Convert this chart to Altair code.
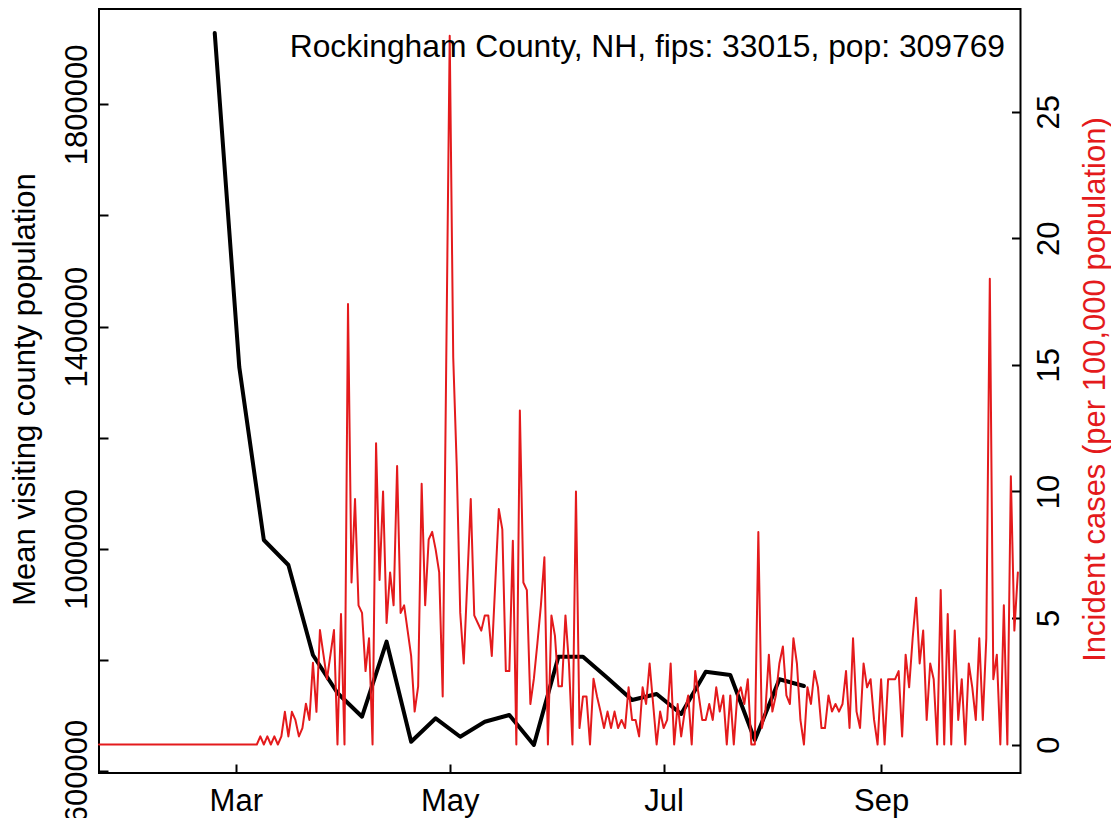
import altair as alt
import pandas as pd

title_text = "Rockingham County, NH, fips: 33015, pop: 309769"
left_title = "Mean visiting county population"
right_title = "Incident cases (per 100,000 population)"

# daily incident cases per 100,000, from 2020-01-22
case_start = "2020-01-22"
cases = [
    0, 0, 0, 0, 0, 0, 0, 0, 0, 0,
    0, 0, 0, 0, 0, 0, 0, 0, 0, 0,
    0, 0, 0, 0, 0, 0, 0, 0, 0, 0,
    0, 0, 0, 0, 0, 0, 0, 0, 0, 0,
    0, 0, 0, 0, 0,
    0, 0.32, 0, 0.32, 0, 0.32, 0, 0.32, 1.29, 0.32,
    1.29, 0.97, 0.32, 0.65, 1.61, 0.97, 3.23, 1.29, 4.52, 3.55,
    2.58, 3.55, 4.52, 0, 5.16, 0, 17.4, 6.4, 9.7, 5.5,
    5.2, 2.9, 4.2, 0, 11.9, 6.5, 10.0, 4.8, 6.8, 5.5,
    11.0, 5.2, 5.5, 4.5, 3.5, 1.3, 2.3, 10.3, 5.5, 8.1,
    8.4, 7.7, 6.8, 1.9, 15.0, 28.0, 15.3, 11.0, 5.2, 3.2,
    6.4, 9.7, 5.1, 4.8, 4.5, 5.1, 5.1, 3.5, 6.4, 9.3,
    8.5, 2.9, 2.9, 8.05, 0, 13.2, 6.4, 6.1, 1.6, 2.6,
    4.0, 5.5, 7.4, 0, 5.1, 4.3, 2.3, 2.3, 5.1, 3.2,
    0, 10.0, 0.65, 1.9, 1.9, 0, 2.6, 1.9, 1.3, 0.65,
    1.3, 0.65, 1.3, 0.65, 0.97, 0.65, 2.26, 0.97, 0.97, 0.32,
    2.26, 1.6, 3.2, 1.6, 0, 1.3, 0.65, 0.97, 3.2, 0,
    1.6, 0.32, 1.3, 1.94, 0, 2.9, 1.94, 0.97, 0.97, 1.6,
    0.97, 2.26, 1.3, 1.94, 0, 1.94, 0, 1.94, 2.26, 1.6,
    2.58, 0, 0, 8.4, 0.65, 1.3, 3.55, 1.3, 1.94, 3.2,
    3.87, 1.94, 1.6, 4.2, 3.2, 0.97, 0, 2.26, 1.6, 2.9,
    2.26, 0.65, 0.65, 1.94, 1.3, 1.6, 1.3, 1.6, 2.9, 0.65,
    4.2, 1.3, 0.65, 3.2, 2.26, 2.58, 0.97, 0, 2.58, 0,
    2.58, 2.58, 2.58, 2.9, 0.32, 3.55, 2.26, 4.2, 5.8, 3.2,
    4.5, 0.97, 3.2, 2.58, 0, 6.1, 0, 5.16, 0, 4.5,
    0.97, 2.58, 0, 3.2, 2.26, 0.97, 4.2, 0.97, 4.2, 18.4,
    2.58, 3.55, 0, 5.5, 0, 10.6, 4.5, 6.8,
]

# weekly mean visiting county population, from 2020-02-24
visit_start = "2020-02-24"
visitors = [
    1928500, 1327000, 1015800, 970800, 808800, 740400, 697700, 832800,
    652700, 694900, 661700, 688700, 700800, 646800, 805800, 805800,
    767400, 727800, 738600, 702600, 778800, 772800, 655800, 765100,
    753000,
]

month_ticks = [(3, 1), (5, 1), (7, 1), (9, 1)]
left_ticks = [600000, 800000, 1000000, 1200000, 1400000, 1600000, 1800000]
right_ticks = [0, 5, 10, 15, 20, 25]

case_dates = pd.date_range(case_start, periods=len(cases), freq="D").strftime("%Y-%m-%d")
visit_dates = pd.date_range(visit_start, periods=len(visitors), freq="7D").strftime("%Y-%m-%d")

cases_df = pd.DataFrame({"date": list(case_dates), "cases": cases})
visit_df = pd.DataFrame({"date": list(visit_dates), "visitors": visitors})
label_df = pd.DataFrame({"label": [title_text]})

W, H = 921.5, 764
FONT = "Liberation Sans"
RED = "#E41A1C"
FS = 31

x_scale = alt.Scale(
    type="utc",
    domain=[
        alt.DateTime(year=2020, month=1, date=22, utc=True),
        alt.DateTime(year=2020, month=10, date=10, hours=18, utc=True),
    ],
)
x_axis = alt.Axis(
    values=[alt.DateTime(year=2020, month=m, date=d, utc=True) for m, d in month_ticks],
    labelExpr="utcFormat(datum.value, '%b')",
    offset=-9, tickSize=9, tickWidth=2, tickColor="black",
    domain=False, grid=False,
    labelFontSize=FS, labelFont=FONT, labelColor="black",
    labelPadding=37, labelBaseline="alphabetic", labelAlign="center",
    labelFlush=False, labelOverlap=False, title=None,
)

y_left_axis = alt.Axis(
    values=left_ticks,
    labelExpr="(datum.value - 600000) % 400000 == 0 ? format(datum.value, 'd') : ''",
    offset=-9, tickSize=9, tickWidth=2, tickColor="black",
    domain=False, grid=False,
    labelAngle=270, labelAlign="center", labelBaseline="alphabetic",
    labelPadding=13, labelFontSize=FS, labelFont=FONT, labelColor="black",
    labelOverlap=False, labelFlush=False,
    title=left_title, titleAngle=270, titleX=-74, titleY=380,
    titleAlign="center", titleBaseline="alphabetic",
    titleFontSize=FS, titleFont=FONT, titleFontWeight="normal", titleColor="black",
)

y_right_axis = alt.Axis(
    orient="right",
    values=right_ticks,
    format="d",
    offset=-9, tickSize=9, tickWidth=2, tickColor="black",
    domain=False, grid=False,
    labelAngle=270, labelAlign="center", labelBaseline="alphabetic",
    labelPadding=37.5, labelFontSize=FS, labelFont=FONT, labelColor="black",
    labelOverlap=False, labelFlush=False,
    title=right_title, titleAngle=270, titleX=93, titleY=380,
    titleAlign="center", titleBaseline="alphabetic",
    titleFontSize=FS, titleFont=FONT, titleFontWeight="normal", titleColor=RED,
)

black = alt.Chart(visit_df).mark_line(
    color="black", strokeWidth=4, strokeJoin="round", strokeCap="round"
).encode(
    x=alt.X("date:T", scale=x_scale, axis=x_axis),
    y=alt.Y("visitors:Q", scale=alt.Scale(domain=[596400, 1971700], nice=False, zero=False),
            axis=y_left_axis),
)

red = alt.Chart(cases_df).mark_line(
    color=RED, strokeWidth=2, strokeJoin="round", strokeCap="round"
).encode(
    x=alt.X("date:T", scale=x_scale, axis=x_axis),
    y=alt.Y("cases:Q", scale=alt.Scale(domain=[-1.126, 29.06], nice=False, zero=False),
            axis=y_right_axis),
)

label = alt.Chart(label_df).mark_text(
    align="right", baseline="alphabetic", fontSize=31.8, font=FONT, color="black"
).encode(
    x=alt.value(906), y=alt.value(48), text="label:N"
)

chart = (
    alt.layer(black, red, label)
    .resolve_scale(y="independent")
    .properties(
        width=W, height=H,
        autosize=alt.AutoSizeParams(type="none"),
        padding={"left": 91, "top": 1, "right": 90.5, "bottom": 45},
        background="white",
    )
    .configure_view(stroke="black", strokeWidth=2)
)

chart.save("out.html", embed_options={"renderer": "svg", "actions": False})
